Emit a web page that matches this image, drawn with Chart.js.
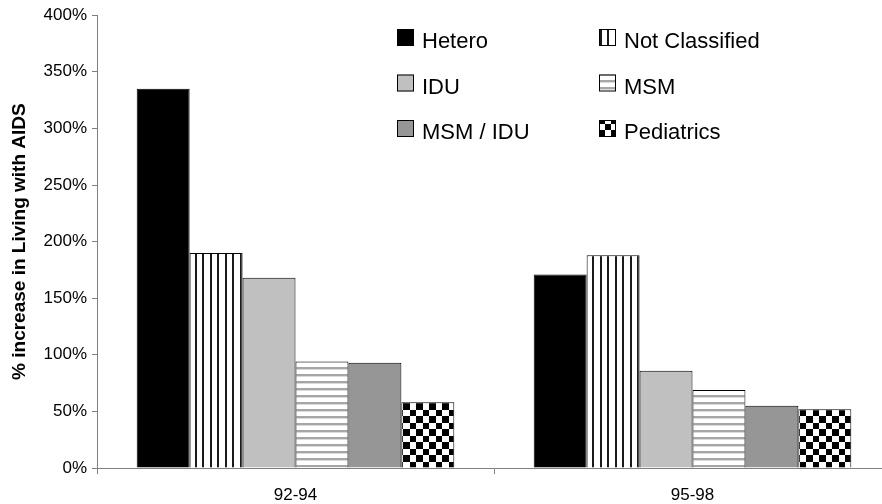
<!DOCTYPE html>
<html>
<head>
<meta charset="utf-8">
<script src="https://cdn.jsdelivr.net/npm/chart.js@4/dist/chart.umd.min.js"></script>
<style>
  html, body { margin: 0; padding: 0; background: #fff; overflow: hidden; }
  /* plot runs a little past the right edge of the window, as in the original */
  #wrap { width: 891px; height: 504px; }
</style>
</head>
<body>
<div id="wrap"><canvas id="aidsChart"></canvas></div>
<script>
// Data (percent increase)
const periods = ['92-94', '95-98'];
const groups = ['Hetero', 'Not Classified', 'IDU', 'MSM', 'MSM / IDU', 'Pediatrics'];
const hetero = [335, 171];
const notClassified = [190, 188];
const idu = [168, 86];
const msm = [94, 69];
const msmIdu = [93, 55];
const pediatrics = [58, 52];
const yTicks = [0, 50, 100, 150, 200, 250, 300, 350, 400];

const FONT = '"Liberation Sans", Arial, sans-serif';

function makePattern(w, h, draw) {
    const c = document.createElement('canvas');
    c.width = w; c.height = h;
    const g = c.getContext('2d');
    g.fillStyle = '#fff';
    g.fillRect(0, 0, w, h);
    draw(g);
    return g.createPattern(c, 'repeat');
}

const mainCtx = document.getElementById('aidsChart').getContext('2d');

// vertical stripes
const vStripes = makePattern(15, 4, g => {
    g.fillStyle = '#1a1a1a';
    g.fillRect(0, 0, 2, 4);
    g.fillRect(7, 0, 2, 4);
});
// horizontal grey stripes
const hStripes = makePattern(4, 7, g => {
    g.fillStyle = '#a6a6a6';
    g.fillRect(0, 3, 4, 2);
    g.fillStyle = '#dadada';
    g.fillRect(0, 5, 4, 1);
});
// checkerboard
const checker = makePattern(13, 13, g => {
    g.fillStyle = '#000';
    g.fillRect(0, 0, 7, 7);
    g.fillRect(7, 7, 6, 6);
});

const fills = ['#000000', vStripes, '#c0c0c0', hStripes, '#969696', checker];
const seriesValues = [hetero, notClassified, idu, msm, msmIdu, pediatrics];

const datasets = groups.map((name, i) => ({
    label: name,
    data: seriesValues[i],
    backgroundColor: fills[i],
    borderColor: '#000',
    borderWidth: 1,
    categoryPercentage: 0.8,
    barPercentage: 1.0
}));

// two-column legend inside the plot, like the original
const gridLegend = {
    id: 'gridLegend',
    afterDraw(chart) {
        const ctx = chart.ctx;
        const x0 = 397, colGap = 202, y0 = 29, rowGap = 45.5, box = 17;
        ctx.save();
        ctx.font = '22px ' + FONT;
        ctx.textBaseline = 'alphabetic';
        ctx.textAlign = 'left';
        chart.data.datasets.forEach((ds, i) => {
            // left column Hetero, IDU, MSM/IDU ; right column Not Classified, MSM, Pediatrics
            const col = i % 2;
            const row = Math.floor(i / 2);
            const x = x0 + col * colGap;
            const y = y0 + row * rowGap;
            ctx.fillStyle = ds.backgroundColor;
            ctx.fillRect(x, y, box, box);
            ctx.strokeStyle = '#000';
            ctx.lineWidth = 1;
            ctx.strokeRect(x + 0.5, y + 0.5, box - 1, box - 1);
            ctx.fillStyle = '#000';
            ctx.fillText(ds.label, x + box + 8, y + 19);
        });
        ctx.restore();
    }
};

new Chart(mainCtx, {
    type: 'bar',
    data: { labels: periods, datasets: datasets },
    options: {
        responsive: true,
        maintainAspectRatio: false,
        animation: false,
        layout: { padding: { top: 15, right: 0, left: 0, bottom: 0 } },
        plugins: {
            legend: { display: false },
            tooltip: { enabled: false }
        },
        scales: {
            x: {
                grid: { display: true, drawOnChartArea: false, drawTicks: true, tickLength: 6, color: '#808080', offset: true },
                border: { color: '#808080', width: 1 },
                ticks: { color: '#000', font: { family: FONT, size: 17 }, padding: 11, maxRotation: 0 },
                afterFit(scale) { scale.height = 36; }
            },
            y: {
                min: 0,
                max: 400,
                afterBuildTicks(scale) { scale.ticks = yTicks.map(v => ({ value: v })); },
                grid: { display: true, drawOnChartArea: false, drawTicks: true, tickLength: 5, color: '#808080' },
                border: { color: '#808080', width: 1 },
                ticks: {
                    color: '#000',
                    font: { family: FONT, size: 17 },
                    padding: 5,
                    callback: v => v + '%'
                },
                title: {
                    display: true,
                    text: '% increase in Living with AIDS',
                    color: '#000',
                    font: { family: FONT, size: 19, weight: 'bold' },
                    padding: { top: 8, bottom: 0 }
                },
                afterFit(scale) { scale.width = 97; }
            }
        }
    },
    plugins: [gridLegend]
});
</script>
</body>
</html>
